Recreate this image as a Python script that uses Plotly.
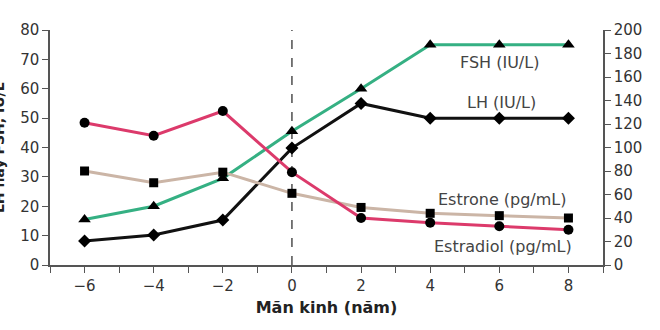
import plotly.graph_objects as go

years = [-6, -4, -2, 0, 2, 4, 6, 8]
fsh = [15.5, 20, 29.5, 45.5, 60, 75, 75, 75]          # IU/L, left axis
lh = [8.2, 10.2, 15.3, 39.8, 55, 50, 50, 50]           # IU/L, left axis
estradiol = [121, 110, 131, 79, 40, 36, 33, 30]        # pg/mL, right axis
estrone = [80, 70, 79, 61, 49, 44, 42, 40]             # pg/mL, right axis

left_ticks = [0, 10, 20, 30, 40, 50, 60, 70, 80]
right_ticks = [0, 20, 40, 60, 80, 100, 120, 140, 160, 180, 200]
x_ticks = [-6, -4, -2, 0, 2, 4, 6, 8]

FONT = "DejaVu Sans, Verdana, sans-serif"
AXC = "#555555"
TXT = "#333333"

fig = go.Figure()

fig.add_trace(go.Scatter(x=years, y=estrone, yaxis="y2", mode="lines+markers",
                         line=dict(color="#cbb5a6", width=3),
                         marker=dict(symbol="square", size=9, color="black"),
                         name="Estrone"))
fig.add_trace(go.Scatter(x=years, y=estradiol, yaxis="y2", mode="lines+markers",
                         line=dict(color="#dc3a6b", width=3),
                         marker=dict(symbol="circle", size=10, color="black"),
                         name="Estradiol"))
fig.add_trace(go.Scatter(x=years, y=fsh, mode="lines+markers",
                         line=dict(color="#35b083", width=3),
                         marker=dict(symbol="triangle-up", size=11, color="black"),
                         name="FSH"))
fig.add_trace(go.Scatter(x=years, y=lh, mode="lines+markers",
                         line=dict(color="#111111", width=3),
                         marker=dict(symbol="diamond", size=10, color="black"),
                         name="LH"))

fig.add_shape(type="line", x0=0, x1=0, xref="x", y0=0, y1=1, yref="paper",
              line=dict(color="#333333", width=1.3, dash="dash"), layer="below")

labels = [
    ("FSH (IU/L)", 6.0, 69),
    ("LH (IU/L)", 6.05, 55.2),
    ("Estrone (pg/mL)", 6.1, 22.3),
    ("Estradiol (pg/mL)", 6.1, 6.3),
]
for t, xx, yy in labels:
    fig.add_annotation(text=t, x=xx, y=yy, xref="x", yref="y", showarrow=False,
                       font=dict(family=FONT, size=16, color="#444444"),
                       xanchor="center", yanchor="middle")

fig.add_annotation(text="<b>LH hay FSH, IU/L</b>", textangle=-90, xref="paper", yref="paper",
                   x=-0.093, y=0.5, xanchor="center", yanchor="middle", showarrow=False,
                   font=dict(family=FONT, size=14, color="#222222"))

fig.update_layout(
    width=660, height=330,
    margin=dict(l=50, r=57, t=30, b=65),
    paper_bgcolor="white", plot_bgcolor="white",
    showlegend=False,
    font=dict(family=FONT, size=15, color=TXT),
    xaxis=dict(range=[-7, 9], tickvals=x_ticks, ticktext=["\u22126", "\u22124", "\u22122", "0", "2", "4", "6", "8"],
               ticks="outside", ticklen=6, tickcolor=AXC, showline=True, linecolor=AXC, linewidth=1.5,
               showgrid=False, zeroline=False,
               minor=dict(dtick=1, tick0=0, ticks="outside", ticklen=6, tickcolor=AXC, showgrid=False),
               tickfont=dict(size=15, color=TXT),
               title=dict(text="<b>Mãn kinh (năm)</b>", font=dict(size=16, color="#222222"), standoff=8)),
    yaxis=dict(range=[0, 80], tickvals=left_ticks, ticks="outside", ticklen=6, tickcolor=AXC,
               showline=True, linecolor=AXC, linewidth=1.5, showgrid=False, zeroline=False,
               tickfont=dict(size=15, color=TXT)),
    yaxis2=dict(range=[0, 200], tickvals=right_ticks, overlaying="y", side="right",
                ticks="outside", ticklen=6, tickcolor=AXC, showline=True, linecolor=AXC, linewidth=1.5,
                showgrid=False, zeroline=False, tickfont=dict(size=15, color=TXT)),
)

fig.write_html("out.html")
